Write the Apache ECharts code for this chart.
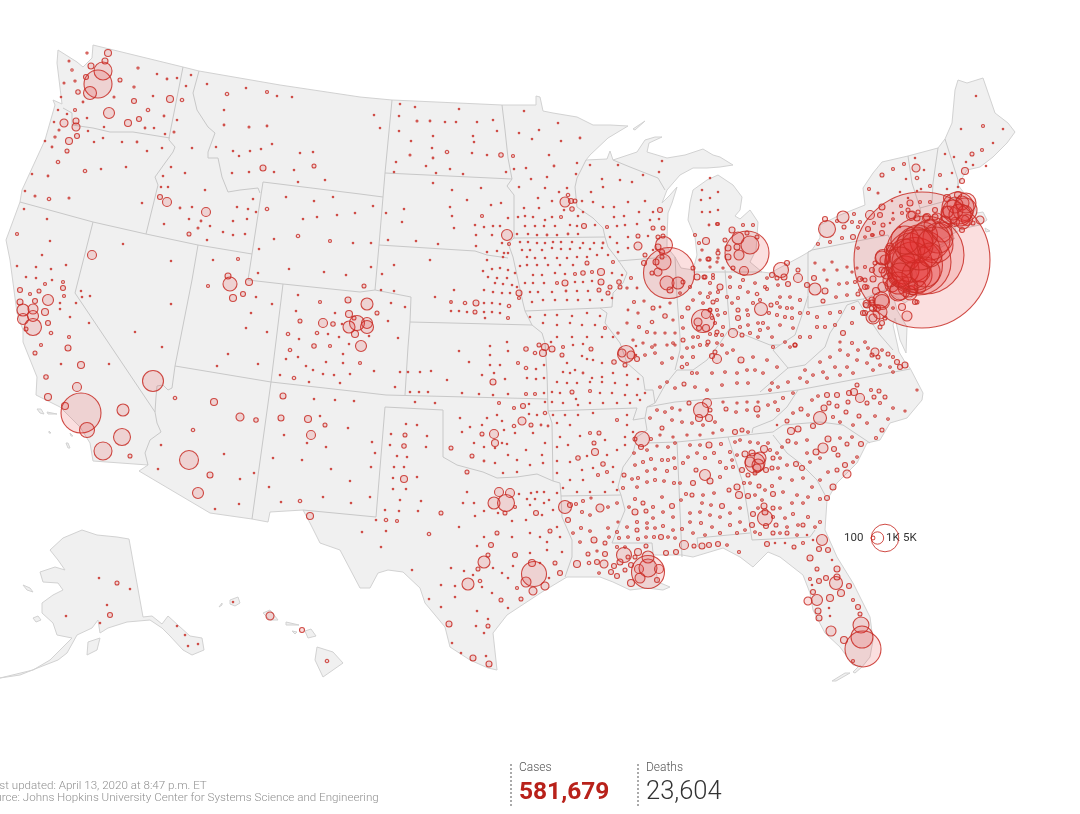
<!DOCTYPE html>
<html lang="en">
<head>
<meta charset="UTF-8">
<title>Coronavirus cases in the US</title>
<script src="https://cdn.jsdelivr.net/npm/echarts@6/dist/echarts.min.js"></script>
<style>
  html, body { margin: 0; padding: 0; background: #fff; overflow: hidden; }
  #main { width: 1080px; height: 814px; }
</style>
</head>
<body>
<div id="main"></div>
<script>
// map shapes in page pixels
const mainland = [[93,45],[183,67],[199,71],[280,85],[360,97],[392,100],[502,105],[536,105],[536,96],[540,97],[543,111],[553,113],[577,117],[593,125],[610,125],[628,126],[608,138],[590,155],[586,160],[607,159],[610,151],[613,160],[637,152],[645,140],[655,137],[662,137],[649,143],[647,152],[667,158],[685,155],[703,149],[713,155],[720,157],[733,165],[720,167],[707,168],[693,168],[680,175],[667,190],[662,203],[670,195],[677,187],[672,203],[668,213],[667,237],[667,247],[675,257],[681,268],[693,270],[697,255],[695,237],[688,220],[690,203],[693,190],[707,180],[718,175],[733,185],[742,197],[740,210],[735,216],[740,219],[750,210],[758,222],[757,237],[756,250],[750,262],[762,272],[770,273],[800,257],[812,250],[820,238],[820,225],[840,215],[865,205],[863,188],[873,173],[882,162],[908,156],[938,148],[945,139],[952,123],[955,90],[958,80],[967,83],[983,78],[995,113],[1008,123],[1015,132],[1007,143],[993,157],[980,167],[967,170],[958,185],[967,197],[973,203],[977,213],[983,212],[987,220],[980,225],[970,227],[960,230],[947,237],[925,247],[915,252],[912,258],[917,275],[917,293],[905,303],[893,295],[897,310],[907,327],[906,353],[900,340],[895,318],[893,325],[899,352],[905,362],[910,368],[923,393],[922,400],[907,418],[890,423],[880,440],[867,443],[857,463],[837,483],[827,500],[825,530],[837,557],[853,583],[870,617],[873,640],[870,657],[862,667],[853,665],[840,647],[825,633],[813,610],[810,593],[803,575],[780,557],[768,552],[753,567],[740,557],[723,548],[693,557],[682,555],[653,555],[658,582],[670,587],[663,590],[647,588],[630,590],[613,582],[600,577],[567,577],[542,592],[507,615],[493,633],[497,670],[488,668],[470,660],[450,647],[445,627],[425,603],[420,588],[403,572],[388,570],[378,573],[370,588],[360,588],[340,550],[320,543],[310,523],[303,510],[270,512],[268,522],[252,519],[210,513],[139,471],[148,465],[93,461],[90,443],[80,427],[60,407],[36,395],[37,377],[23,342],[23,330],[17,313],[10,260],[6,240],[20,202],[22,190],[45,140],[55,105],[53,100],[62,104],[57,63],[58,50],[77,62],[83,67],[92,58]];
const alaska = [[129,539],[143,617],[152,616],[162,624],[168,616],[190,636],[202,638],[204,650],[192,655],[183,650],[170,636],[162,628],[150,620],[127,622],[108,628],[100,633],[98,620],[92,628],[77,635],[67,653],[58,660],[40,667],[20,675],[0,678],[33,670],[50,660],[72,638],[57,635],[53,623],[42,613],[42,603],[53,595],[63,590],[58,583],[43,582],[40,572],[55,567],[65,570],[58,560],[50,550],[63,538],[82,530],[97,535],[117,537]];
const islands = [
  [[87,655],[88,642],[100,638],[97,650]], [[33,618],[38,616],[41,620],[36,622]], [[23,585],[30,588],[33,592],[27,590]],
  [[317,647],[333,652],[343,663],[323,677],[315,660]], [[305,631],[311,629],[316,636],[308,638]], [[263,613],[270,610],[278,620],[270,620]],
  [[230,600],[238,597],[240,603],[235,606],[230,604]], [[286,622],[299,625],[298,626],[286,625]], [[292,631],[297,632],[295,634]], [[219,607],[222,603],[222,605]],
  [[37,409],[41,409],[44,414],[40,413]], [[47,412],[57,414],[56,415],[48,414]], [[49,431],[51,433],[49,433]], [[70,433],[73,436],[71,436]], [[66,443],[68,443],[70,448],[68,448]],
  [[917,258],[935,247],[955,238],[945,245],[925,257]], [[985,228],[990,231],[986,232]], [[832,681],[845,673],[850,673],[836,681]], [[853,672],[860,665],[862,667],[855,673]],
  [[633,129],[645,121],[646,122],[635,130]]
];
const stateLines = [
  [[63,108],[72,113],[72,125],[93,128],[110,132],[133,132],[170,138]],
  [[183,67],[169,138],[169,140],[175,147],[173,152],[165,163],[155,177],[158,185],[146,234]],
  [[20,202],[93,222],[146,234],[198,245],[252,254]],
  [[199,71],[193,93],[197,110],[208,127],[215,133],[208,152],[208,158],[218,158],[222,177],[228,192],[240,190],[258,188],[260,193]],
  [[263,182],[360,194],[383,197]],
  [[263,182],[252,254],[248,280],[283,284],[360,292],[375,290],[411,297],[410,322],[408,347],[405,395]],
  [[283,284],[271,382],[252,519]],
  [[198,245],[192,280],[175,366],[271,382],[360,392],[386,395],[548,399]],
  [[175,366],[172,388],[168,390],[163,385],[157,386],[156,397],[155,412],[157,423],[161,432],[150,440],[145,453],[148,465]],
  [[93,222],[75,293],[155,412]],
  [[392,100],[385,173],[383,197],[379,245],[375,290]],
  [[385,173],[512,179]],
  [[502,105],[505,130],[508,158],[512,179],[507,186],[514,195],[514,238],[605,237]],
  [[379,245],[475,251],[487,255],[508,258]],
  [[514,238],[508,243],[513,257],[518,280],[523,303],[525,311],[532,325],[542,333],[545,343],[547,373],[548,411],[552,423],[553,481]],
  [[586,160],[577,178],[575,187],[577,207],[593,218],[603,228],[605,237],[608,247],[618,260],[627,273],[623,283],[613,293],[612,307],[600,308],[525,311]],
  [[618,261],[667,257]],
  [[613,160],[630,167],[658,178],[665,190]],
  [[410,322],[532,325]],
  [[600,308],[607,313],[605,323],[620,343],[627,363],[643,377],[645,390],[653,390],[655,403],[647,407],[645,418],[633,420],[637,408],[548,411]],
  [[655,403],[665,385],[677,370],[693,370],[707,360],[720,343],[730,328],[745,335],[770,345],[780,345],[795,335],[802,315],[808,296]],
  [[675,257],[677,297],[680,337],[680,350],[675,370]],
  [[725,270],[730,330]],
  [[693,272],[762,272]],
  [[812,250],[808,252],[808,308],[863,299]],
  [[812,250],[888,235],[895,250],[890,268],[885,290],[863,299],[872,312]],
  [[385,407],[376,517],[303,510]],
  [[385,407],[443,410],[443,457],[457,465],[483,472],[497,478],[517,477],[537,474],[553,481],[560,483],[561,496],[562,517],[572,540],[572,557],[565,577]],
  [[561,496],[621,495]],
  [[645,418],[647,430],[637,437],[633,453],[623,467],[618,487],[621,495],[625,510],[617,530],[612,543],[652,543],[653,553]],
  [[647,443],[677,442],[728,437],[773,432]],
  [[773,432],[783,425],[820,422],[843,425],[870,443]],
  [[752,433],[753,428],[773,420],[787,407],[798,390]],
  [[647,407],[675,402],[757,395],[798,390],[910,369]],
  [[760,392],[788,368],[805,365],[825,347],[830,333],[840,318],[847,305],[858,301],[870,320],[880,335],[893,350]],
  [[788,368],[773,350],[780,345]],
  [[677,442],[682,557]],
  [[728,437],[743,483],[748,513],[752,540],[810,537],[815,530]],
  [[697,538],[698,547]],
  [[697,538],[750,533]],
  [[773,435],[787,453],[800,463],[817,480],[825,495]],
  [[908,156],[912,183],[920,208],[922,227],[923,233]],
  [[938,148],[933,183],[932,203]],
  [[920,208],[957,198]],
  [[945,139],[958,180],[958,187]],
  [[922,227],[953,220],[956,232]]
];

// bubbles: [x, y, cases]
const pacificNw = [[87,53,30],[108,53,322],[105,61,237],[91,66,237],[103,71,2130],[98,84,5155],[90,93,1111],[86,77,164],[69,61,25],[72,70,40],[64,83,25],[75,81,30],[78,92,133],[120,80,105],[138,68,30],[157,74,8],[167,79,20],[177,78,6],[134,87,30],[134,101,164],[114,97,25],[83,102,20],[61,97,5],[153,96,8],[170,99,322],[182,100,80],[109,113,796],[75,110,59],[58,110,15],[148,110,80],[164,116,20],[139,119,164],[128,123,322],[87,118,10],[104,127,15],[145,128,20],[154,128,6],[165,134,12],[177,120,10],[174,132,25],[191,75,5],[186,86,10],[64,123,421],[76,121,237],[76,127,421],[67,114,15],[54,122,8],[59,130,25],[77,136,164],[69,141,322],[55,137,30],[45,141,8],[52,147,20],[67,151,105],[58,162,80],[32,174,5],[48,176,20],[85,171,80],[101,169,5],[126,167,4],[147,151,12],[137,142,20],[122,142,15],[94,142,15],[103,138,4],[88,131,15],[162,148,5],[25,191,8],[35,196,25],[49,199,80],[69,198,25],[142,203,12]];
const northRockies = [[192,148,10],[171,167,4],[185,173,8],[163,176,6],[161,187,15],[168,187,15],[160,197,164],[167,202,533],[180,208,20],[192,207,4],[205,190,5],[206,212,533],[189,219,12],[201,221,20],[198,228,25],[210,226,10],[164,224,12],[189,234,105],[207,240,12],[223,232,6],[233,235,8],[245,234,5],[233,221,6],[247,219,15],[256,212,12],[248,209,10],[237,207,8],[253,199,4],[267,209,80],[207,84,12],[227,94,80],[246,88,10],[267,92,59],[277,96,4],[292,97,4],[224,110,8],[224,125,20],[249,127,25],[267,126,20],[216,147,15],[233,151,8],[239,156,15],[250,151,6],[261,149,8],[272,144,6],[300,153,3],[313,152,3],[263,168,237],[249,172,12],[232,173,5],[274,172,12],[294,170,3],[314,166,105],[298,182,8],[325,180,3],[286,197,3],[314,201,3],[333,197,15],[303,219,5],[317,217,8],[337,215,12],[355,213,12],[298,236,80],[274,239,3],[330,241,59],[353,243,10],[259,249,10],[289,269,15],[258,273,6],[324,272,8],[346,275,6]];
const southwest = [[213,260,15],[238,259,59],[228,276,237],[230,284,1289],[249,282,322],[208,286,59],[233,298,322],[243,294,164],[256,297,5],[272,304,10],[251,313,4],[246,328,5],[267,332,3],[228,354,3],[217,366,8],[258,364,15],[92,255,533],[123,244,15],[171,261,15],[81,291,15],[90,296,10],[82,297,12],[76,303,5],[89,323,15],[135,332,15],[162,347,3],[171,304,3],[109,364,15],[153,381,2900],[17,234,59],[47,219,5],[24,209,4],[50,241,15],[42,255,4],[17,266,10],[36,267,6],[51,269,12],[66,265,5],[26,277,6],[36,278,6],[52,280,8],[45,284,59],[63,282,59],[63,288,164],[20,290,164],[30,294,59],[39,291,105],[48,300,796],[35,301,164],[64,296,59],[20,302,237],[23,310,947],[33,309,657],[33,316,796],[23,319,796],[33,327,1900],[45,312,322],[48,323,164],[26,329,105],[60,303,8],[60,309,8],[70,317,4],[51,333,80],[69,337,59],[41,345,59],[68,348,237],[35,353,105],[61,364,10],[81,365,322],[46,377,133],[48,397,322],[77,387,533],[81,413,10519],[65,406,322],[87,430,1479],[123,410,947],[122,437,1900],[103,451,2130],[130,456,105],[175,398,80],[214,402,322],[240,417,421],[256,420,133],[193,430,80],[161,445,6],[189,460,2374],[224,454,6],[210,475,237],[240,479,4],[254,473,4],[198,493,796],[158,469,12],[215,509,10],[239,504,15]];
const coloradoNm = [[298,295,5],[320,302,59],[348,300,237],[296,311,3],[335,313,6],[300,321,105],[323,323,533],[333,324,133],[349,314,322],[354,318,105],[349,327,947],[357,323,1479],[355,334,322],[317,333,80],[328,334,5],[342,324,12],[339,337,10],[288,334,80],[299,339,12],[290,350,80],[314,346,133],[330,346,59],[349,344,12],[361,346,796],[343,354,12],[286,359,12],[298,357,8],[326,362,6],[343,363,5],[360,363,59],[306,366,5],[313,370,5],[323,374,10],[334,375,12],[280,375,12],[294,378,80],[309,382,10],[340,383,10],[350,374,5],[367,304,947],[367,323,796],[367,327,1111],[369,336,8],[283,396,237],[314,399,8],[335,400,15],[354,401,5],[281,418,237],[308,419,322],[320,416,8],[325,425,105],[284,435,12],[311,435,533],[307,443,12],[348,428,3],[326,447,8],[273,458,3],[302,460,10],[331,469,3],[269,487,10],[350,481,15],[281,502,5],[300,501,80],[323,497,5],[351,503,8],[310,516,322]];
const northPlains = [[399,116,12],[374,115,6],[380,128,6],[415,107,4],[400,104,3],[459,109,3],[417,121,25],[430,121,20],[445,122,4],[456,122,6],[477,122,6],[493,120,8],[399,131,12],[497,131,15],[411,141,8],[433,136,4],[473,136,3],[474,142,5],[432,148,5],[410,155,25],[433,158,20],[447,152,80],[472,153,3],[487,155,6],[501,155,133],[396,162,8],[426,166,4],[450,169,5],[436,173,3],[394,172,6],[463,174,4],[506,172,10],[481,188,15],[452,190,5],[433,183,5],[467,200,4],[491,205,5],[501,203,15],[373,206,6],[386,213,12],[404,209,3],[450,207,3],[452,216,12],[482,216,59],[508,218,12],[402,222,15],[454,228,5],[475,225,5],[484,227,5],[493,226,4],[500,226,5],[507,235,796],[476,235,5],[492,235,6],[502,243,8],[509,244,59],[388,240,3],[416,241,3],[438,244,3],[476,246,4],[497,251,15],[487,252,8],[504,253,12],[508,253,6],[487,260,4],[503,257,10],[430,260,3],[371,243,3],[394,265,4],[371,267,6],[382,274,12],[483,271,4],[492,269,6],[500,268,5],[508,270,8],[488,277,5],[497,278,6],[507,278,6],[515,273,5],[495,283,6],[503,284,6],[512,285,8],[517,287,6],[519,293,237],[519,298,59],[454,290,8],[484,290,6],[493,292,6],[502,293,6],[510,293,8],[381,290,8],[394,291,6],[435,297,15],[451,302,50],[465,303,80],[476,303,237],[484,303,8],[492,303,6],[500,304,6],[509,306,80],[451,311,4],[459,311,4],[467,312,5],[475,312,105],[484,312,6],[492,312,6],[500,313,4],[508,318,59],[364,286,105],[391,303,10],[405,307,8],[377,313,105],[388,321,5],[485,318,5],[398,338,15]];
const upperMidwest = [[524,111,5],[539,130,8],[558,123,3],[580,138,20],[513,156,59],[519,133,3],[532,139,3],[561,141,5],[549,155,6],[577,163,15],[526,168,10],[514,169,12],[554,166,20],[590,165,12],[531,179,5],[547,177,4],[576,174,8],[519,187,6],[545,188,15],[559,192,12],[568,195,80],[567,188,12],[571,201,164],[565,202,657],[575,201,105],[572,209,133],[564,210,12],[538,198,5],[552,201,6],[524,208,6],[539,208,6],[518,217,5],[525,216,8],[533,217,6],[545,220,8],[552,217,8],[561,217,59],[578,216,6],[525,226,5],[535,226,6],[544,226,6],[555,226,15],[570,225,15],[577,226,15],[584,226,164],[547,235,20],[517,234,6],[528,234,6],[537,235,8],[557,235,8],[568,234,20],[578,234,15],[595,225,12],[582,201,8],[591,192,6],[603,187,5],[620,180,4],[632,182,4],[643,175,5],[659,172,6],[662,161,10],[618,165,4],[602,179,4],[583,212,8],[593,202,8],[603,207,15],[614,207,10],[628,202,8],[645,201,6],[660,210,164],[653,212,12],[639,212,8],[624,216,8],[614,217,8],[607,227,59],[617,226,5],[625,225,12],[637,224,8],[650,220,6],[659,219,12],[653,228,105],[663,228,105],[628,237,15],[638,236,105],[658,237,105],[648,236,15],[638,246,421],[628,248,10],[618,252,8],[645,255,105],[653,250,15],[663,236,105],[610,237,5],[617,243,8],[664,245,1900],[662,252,164],[658,247,237]];
const chicagoArea = [[669,273,17101],[663,262,1683],[656,262,237],[662,257,105],[658,272,421],[667,283,1289],[678,283,947],[670,290,237],[652,273,105],[644,263,164],[683,282,105],[693,268,105]];
const iowa = [[520,242,10],[528,242,8],[537,243,8],[545,243,6],[553,242,8],[561,242,8],[572,242,10],[583,243,10],[594,243,15],[603,243,20],[522,250,15],[530,250,8],[542,250,8],[552,248,15],[561,249,15],[570,249,15],[580,248,15],[590,249,15],[602,248,15],[608,255,15],[527,257,15],[535,258,10],[545,258,15],[557,258,15],[567,258,15],[577,257,15],[587,257,15],[597,255,15],[587,263,105],[613,262,59],[527,265,10],[537,265,10],[548,265,10],[560,265,10],[573,265,10],[520,266,15],[533,275,15],[542,275,15],[557,283,59],[555,273,15],[565,274,15],[575,274,59],[583,273,133],[592,272,59],[601,272,322],[612,273,10],[622,275,10],[525,283,15],[533,283,15],[544,283,10],[565,283,237],[575,282,15],[583,282,15],[592,281,15],[601,282,237],[610,287,105],[619,282,133],[620,287,105],[530,292,15],[538,292,10],[552,292,15],[566,291,20],[577,291,15],[588,291,15],[599,290,105],[608,293,105],[532,302,15],[543,300,10],[555,300,10],[567,300,10],[578,300,10],[590,300,10],[602,300,15],[612,298,15]];
const kansasOk = [[374,371,10],[400,372,4],[395,387,12],[408,372,5],[420,372,5],[431,371,15],[447,380,15],[459,351,5],[469,362,6],[490,346,6],[490,355,6],[507,342,6],[508,351,8],[526,349,133],[535,353,80],[539,345,105],[543,353,322],[545,347,322],[552,349,237],[551,342,5],[490,365,12],[500,365,8],[518,363,59],[526,368,80],[536,369,8],[544,365,6],[482,375,8],[494,373,8],[505,379,12],[493,382,237],[527,378,8],[536,379,5],[544,378,5],[410,392,6],[419,392,8],[428,392,10],[462,393,5],[479,394,5],[493,395,5],[508,394,6],[526,394,59],[535,394,59],[544,393,8],[415,402,8],[435,403,3],[499,403,59],[514,408,59],[523,406,164],[529,404,15],[545,402,15],[545,413,80],[537,415,15],[529,414,15],[522,421,421],[514,426,80],[531,425,105],[541,425,20],[502,421,15],[497,415,15],[487,418,10],[482,425,15],[470,427,10],[460,418,8],[494,434,533],[495,443,322],[482,434,105],[504,430,15],[515,433,15],[533,433,15],[548,426,20],[502,443,15],[507,444,15],[451,448,105],[462,432,15],[474,443,15],[484,447,15],[495,448,15],[472,456,105],[484,461,20],[508,455,15],[526,450,15],[542,455,15],[545,443,15],[495,463,15],[517,460,8],[467,472,105],[530,465,8],[543,463,10],[503,473,15],[517,472,15]];
const texas = [[406,424,15],[417,425,5],[405,435,105],[391,434,5],[427,436,10],[390,445,10],[404,446,133],[426,447,15],[375,453,12],[397,456,10],[407,457,6],[372,442,3],[371,467,5],[394,467,4],[404,467,10],[393,478,15],[404,479,322],[417,477,5],[370,497,5],[385,510,12],[400,500,12],[393,489,10],[406,489,8],[421,501,5],[399,511,5],[418,511,4],[386,520,80],[397,521,59],[376,520,4],[441,513,105],[362,532,5],[386,531,4],[429,534,80],[381,547,6],[412,570,10],[441,585,8],[429,599,10],[455,597,5],[441,607,6],[467,492,6],[474,503,8],[463,503,4],[499,492,533],[510,493,533],[494,503,947],[506,503,1900],[515,507,59],[519,494,15],[505,513,105],[531,493,8],[537,492,8],[544,492,8],[527,499,10],[535,499,10],[549,500,15],[557,493,15],[530,505,15],[544,503,15],[553,510,15],[536,513,164],[484,511,15],[475,516,15],[498,513,15],[459,527,15],[512,521,15],[526,520,15],[542,515,10],[557,527,15],[550,531,105],[484,537,15],[497,533,105],[512,537,10],[530,533,10],[540,537,15],[547,542,8],[491,545,164],[477,546,8],[560,537,10],[530,553,15],[547,550,8],[562,552,15],[515,555,164],[488,555,105],[484,562,947],[478,569,105],[493,568,15],[513,566,15],[532,563,322],[540,563,15],[555,563,105],[451,568,6],[464,571,15],[473,575,15],[502,573,15],[508,578,10],[468,584,947],[480,581,80],[455,586,8],[534,574,4109],[526,582,657],[545,586,421],[533,591,421],[560,573,164],[549,578,8],[517,588,59],[492,593,15],[482,587,15],[501,600,105],[521,599,105],[508,608,15],[477,611,5],[488,619,15],[488,626,105],[476,626,5],[484,633,6],[449,624,237],[452,643,5],[461,653,8],[473,658,237],[486,656,6],[489,664,237]];
const missouriArk = [[563,347,59],[562,355,105],[573,345,15],[583,344,15],[591,349,105],[582,356,15],[593,360,15],[567,363,15],[587,359,15],[602,363,15],[614,362,133],[626,354,1900],[622,353,421],[631,355,421],[637,359,164],[636,355,15],[636,346,15],[625,365,105],[583,373,20],[563,372,15],[570,373,15],[575,370,10],[592,378,15],[602,377,15],[613,373,15],[627,375,15],[557,382,15],[567,383,15],[577,383,15],[590,382,15],[602,382,15],[615,383,15],[627,385,15],[638,379,15],[572,392,105],[590,391,59],[560,393,15],[576,399,15],[552,392,15],[600,393,15],[612,393,15],[625,395,15],[637,395,15],[645,393,15],[552,402,15],[563,403,15],[578,405,15],[590,403,15],[603,403,15],[617,403,15],[630,403,15],[640,400,15],[530,317,15],[545,315,15],[557,315,10],[572,316,15],[587,313,15],[600,316,15],[543,323,15],[557,325,15],[570,323,15],[582,325,15],[595,325,15],[605,328,59],[557,337,15],[572,337,15],[587,337,15],[602,337,15],[613,337,15],[553,415,15],[565,415,10],[578,415,15],[593,413,15],[617,420,59],[627,415,15],[557,423,15],[570,425,10],[590,433,59],[599,433,105],[580,436,15],[560,437,15],[605,440,15],[594,443,105],[627,425,15],[625,437,15],[633,432,15],[557,447,15],[568,445,15],[617,450,15],[595,452,322],[578,458,133],[587,456,15],[607,455,15],[625,445,15],[557,461,15],[570,462,15],[603,464,133],[593,468,15],[582,470,15],[613,467,15],[607,472,59],[557,473,15],[570,480,15],[583,480,15],[598,475,59],[613,482,15],[563,488,15],[577,492,15],[590,492,15],[605,492,15],[617,490,15]];
const louisianaMs = [[565,507,1111],[570,505,164],[576,504,59],[583,501,59],[591,498,30],[600,508,421],[582,512,59],[590,515,45],[608,507,45],[617,503,45],[568,520,164],[581,528,59],[590,531,45],[608,528,45],[618,522,30],[594,540,237],[580,542,45],[573,533,45],[605,543,105],[609,537,45],[588,554,105],[597,551,30],[605,554,164],[617,547,59],[577,564,322],[597,562,164],[604,564,421],[589,563,80],[614,566,164],[620,562,237],[624,555,1479],[638,552,322],[646,546,105],[625,570,105],[611,572,164],[599,573,45],[617,576,164],[631,583,322],[631,565,164],[639,569,533],[648,572,7160],[648,557,947],[648,568,2130],[659,569,533],[640,578,657],[657,580,164],[635,557,105],[628,557,105],[666,553,164],[676,552,164],[634,453,45],[647,450,45],[657,446,30],[668,447,45],[675,443,45],[635,465,45],[643,462,59],[651,459,59],[662,460,59],[668,460,59],[674,458,45],[624,475,105],[632,479,45],[638,478,59],[647,471,45],[655,469,45],[667,471,59],[675,468,59],[623,488,59],[637,487,45],[647,482,45],[655,480,59],[664,481,45],[674,483,59],[635,499,59],[643,503,105],[653,507,59],[662,497,45],[672,506,164],[629,507,45],[635,512,237],[646,511,105],[663,512,45],[673,517,45],[637,522,59],[627,527,45],[647,523,45],[653,518,45],[663,526,59],[655,528,45],[617,532,59],[637,530,105],[647,528,45],[673,530,45],[619,538,59],[628,537,45],[638,539,59],[646,537,45],[654,537,59],[661,537,164],[668,537,45],[675,538,45],[625,547,45],[642,439,1479],[635,439,105],[641,447,164],[651,439,59]];
const tennesseeKy = [[662,428,105],[650,418,45],[657,410,45],[689,403,105],[701,410,1479],[707,403,533],[699,418,322],[709,418,322],[710,410,105],[726,409,105],[680,410,30],[672,408,45],[665,412,45],[672,420,45],[682,422,45],[692,423,45],[703,425,45],[715,422,45],[722,430,45],[735,432,164],[742,430,105],[748,432,45],[736,412,45],[747,410,45],[757,409,237],[758,416,45],[768,405,45],[775,402,45],[783,398,59],[793,393,45],[778,410,59],[737,403,30],[723,402,30],[758,402,30],[747,402,30],[673,437,30],[687,435,30],[700,435,30],[713,433,30],[660,435,30],[717,359,533],[715,352,105],[712,356,164],[708,342,105],[700,345,59],[741,360,237],[753,357,45],[733,350,45],[727,353,45],[722,345,45],[737,373,45],[725,372,45],[712,373,45],[697,373,45],[692,373,59],[682,367,80],[687,364,59],[684,384,105],[667,382,45],[675,388,45],[695,387,45],[707,390,45],[722,385,45],[737,383,45],[748,383,45],[763,373,45],[772,383,45],[755,370,45],[747,370,45],[767,360,45],[777,367,45],[660,387,45],[645,355,45],[655,353,45],[673,343,45],[652,347,45],[693,357,59],[687,348,45],[682,357,45],[672,358,45],[662,363,45]];
const illinoisIn = [[634,302,59],[653,308,105],[644,301,30],[627,288,30],[631,278,59],[637,288,20],[628,310,20],[638,313,30],[652,322,80],[665,316,133],[639,327,59],[647,332,59],[627,323,30],[618,333,30],[655,333,30],[665,333,30],[673,320,30],[660,307,20],[670,303,30],[675,333,30],[633,340,30],[643,343,30],[655,345,30],[667,345,30],[675,345,30],[703,321,3478],[698,322,421],[706,314,533],[706,328,322],[699,328,164],[712,318,59],[710,310,59],[697,277,237],[704,277,105],[713,275,59],[688,308,105],[680,293,45],[690,287,59],[700,293,45],[710,293,45],[718,292,59],[693,300,45],[703,303,45],[713,302,105],[682,317,59],[683,328,45],[683,340,105],[693,337,45],[698,337,59],[710,334,59],[717,332,105],[718,315,45],[693,347,45],[707,345,45],[717,343,45]];
const michiganOh = [[706,241,322],[695,235,59],[699,243,59],[702,250,30],[709,259,105],[700,260,30],[718,258,30],[718,250,30],[710,267,30],[709,225,20],[717,224,59],[701,200,15],[710,198,15],[718,192,15],[710,178,10],[702,212,15],[710,212,15],[718,210,15],[702,190,10],[732,230,237],[743,225,59],[753,225,59],[718,224,59],[725,240,105],[747,253,12729],[750,245,2130],[738,238,947],[739,255,657],[744,271,533],[757,237,105],[747,233,105],[728,248,237],[728,257,237],[737,247,237],[718,253,105],[708,259,105],[717,262,30],[733,268,105],[723,268,30],[761,309,1111],[771,305,105],[781,270,1479],[787,263,164],[798,270,105],[798,278,533],[784,277,237],[777,278,105],[772,275,164],[788,284,164],[767,289,59],[757,294,80],[778,285,45],[738,298,59],[748,292,45],[730,277,45],[743,280,59],[755,283,45],[767,278,45],[738,310,105],[738,318,164],[732,303,45],[747,310,45],[760,300,59],[769,313,59],[780,297,45],[790,297,45],[780,307,45],[792,318,59],[800,300,59],[792,308,45],[740,327,59],[733,333,533],[722,335,59],[716,335,59],[742,335,105],[748,325,45],[758,323,45],[768,328,45],[780,325,45],[793,328,45],[758,337,45],[772,337,45],[785,342,45],[790,347,45],[710,283,59],[720,287,237],[705,277,105],[713,278,59],[730,287,59],[740,287,59],[765,287,59],[708,297,59],[717,300,59],[727,297,59],[753,303,59],[777,303,59],[787,308,59],[710,310,105],[717,310,59],[725,313,59],[748,315,59],[763,323,59],[777,315,59],[785,317,59],[800,313,59],[808,313,59],[817,317,59],[830,313,59],[840,312,59],[843,333,164],[852,323,59],[817,327,59],[825,327,59],[835,325,59],[810,337,59],[800,337,59],[723,327,59],[715,323,59],[750,333,59],[760,330,59],[773,347,59],[795,345,105]];
const pennNy = [[807,285,164],[815,289,947],[825,291,237],[814,278,164],[823,301,105],[824,270,30],[832,262,30],[815,263,30],[837,270,30],[847,267,30],[839,284,45],[847,283,45],[855,282,59],[852,272,30],[860,279,164],[873,279,237],[867,287,105],[876,291,322],[883,287,657],[865,280,105],[860,290,45],[857,268,30],[836,297,45],[847,295,45],[827,280,30],[827,229,1900],[843,217,947],[825,219,164],[854,214,59],[837,221,59],[844,227,105],[852,222,59],[858,227,59],[853,237,164],[842,238,59],[830,242,59],[818,244,59],[870,215,533],[880,215,164],[882,207,237],[868,229,164],[883,225,105],[872,235,59],[882,233,164],[910,203,237],[901,206,59],[911,216,533],[918,212,105],[869,189,59],[882,175,105],[893,169,59],[904,164,59],[878,193,26],[917,191,15],[900,192,15],[892,201,15],[908,198,15],[920,202,59],[902,213,59],[893,213,15],[908,210,105],[890,223,15],[900,227,15],[926,218,322],[935,217,237],[930,202,59],[912,215,421],[917,218,237],[927,217,322],[860,222,59],[874,223,59],[893,219,45],[865,237,45],[873,235,45],[858,248,45],[882,258,1289],[889,250,533],[875,263,105],[872,270,164],[865,267,59],[882,270,237],[887,273,947],[892,285,1289],[898,292,2130],[910,293,1289],[862,279,45],[865,287,164],[858,294,105],[872,300,237],[881,300,1683],[867,304,421],[873,308,322],[893,308,45],[865,313,164],[882,323,164],[920,287,947],[915,302,164]];
const newEngland = [[916,168,421],[917,178,80],[915,158,15],[924,170,15],[906,179,15],[921,189,15],[930,186,59],[940,175,59],[952,173,15],[945,154,15],[954,157,15],[972,154,105],[982,150,59],[965,171,322],[962,181,164],[973,165,15],[966,162,15],[986,166,15],[947,189,15],[958,187,15],[993,143,15],[983,126,59],[961,129,15],[976,96,15],[1003,129,8],[958,208,6733],[962,203,1289],[953,210,2630],[947,212,947],[965,213,1479],[958,195,322],[947,198,322],[967,220,796],[955,222,533],[980,220,421],[950,225,105],[962,230,164],[973,223,105],[935,210,164],[937,218,657],[965,210,3787],[960,215,3182],[950,215,2130],[955,205,1683],[966,203,2630],[963,222,1289]];
const nycArea = [[922,260,121604],[925,255,40000],[918,262,28639],[915,265,19889],[930,240,10519],[938,238,5917],[912,262,10519],[905,270,5155],[900,262,5917],[898,283,3182],[908,287,2630],[917,275,5917],[920,272,2630],[910,248,5917],[925,235,4109],[942,232,2630],[915,245,8521],[905,255,6733],[930,225,947],[945,222,947],[900,290,2630],[890,280,1289],[880,270,1289],[913,290,657],[885,260,657],[883,257,1479],[890,247,421],[907,316,657],[902,307,322],[905,240,5155],[918,240,5917],[935,245,8521],[910,272,8521],[925,272,5917],[900,275,3787],[930,255,3787],[920,250,10519]];
const baltimoreDc = [[882,302,1479],[873,317,1289],[880,312,1289],[872,303,237],[866,305,164],[873,318,421],[877,308,322],[863,313,164],[885,318,105],[917,302,105],[853,308,59],[880,327,105],[875,352,421],[872,355,105],[878,357,105],[888,354,105],[893,357,59],[897,362,164],[900,367,164],[905,365,237],[840,342,30],[852,343,59],[865,342,45],[868,348,45],[882,350,45],[858,350,45],[848,355,45],[840,350,45],[830,357,45],[820,362,45],[805,370,45],[795,345,105],[857,360,45],[867,363,45],[880,365,45],[890,367,45],[847,367,45],[835,367,45],[823,372,45],[813,375,45],[800,378,45],[788,382,45],[778,387,45],[770,390,45],[853,373,45],[873,370,45],[893,372,45],[840,375,45],[827,378,45],[807,382,45]];
const carolinas = [[860,398,533],[854,392,322],[849,393,164],[857,385,105],[837,395,164],[827,395,164],[818,396,45],[812,400,45],[801,409,105],[808,415,45],[820,418,1111],[824,408,237],[829,403,105],[837,406,105],[848,402,105],[867,403,105],[874,397,105],[879,391,105],[871,390,59],[885,397,105],[880,403,59],[893,408,45],[917,390,30],[905,411,30],[846,412,105],[859,416,105],[833,417,59],[888,419,45],[875,416,45],[867,423,45],[882,430,105],[876,438,59],[853,425,45],[840,422,45],[813,426,164],[798,429,237],[791,431,322],[787,421,105],[793,413,45],[777,425,15],[823,448,657],[828,439,237],[816,452,237],[834,449,164],[838,455,105],[847,444,105],[861,444,164],[840,438,45],[852,437,45],[807,440,45],[796,443,45],[788,441,105],[807,453,45],[796,464,164],[802,468,164],[810,462,45],[820,458,45],[828,472,45],[837,470,105],[845,465,164],[847,474,421],[853,462,45],[857,457,45],[833,487,237],[827,498,164],[820,480,45]];
const georgiaAl = [[755,463,2630],[750,462,657],[760,458,947],[758,465,947],[757,468,421],[764,449,322],[752,453,237],[745,454,237],[766,470,164],[742,470,164],[748,475,105],[755,473,105],[773,458,105],[777,453,45],[772,468,105],[740,440,45],[735,442,45],[750,442,45],[758,443,45],[768,443,45],[770,450,59],[782,447,45],[787,465,45],[780,458,45],[778,468,45],[737,455,45],[744,483,59],[759,486,105],[750,483,45],[772,486,59],[780,478,45],[792,480,45],[803,478,45],[812,487,45],[755,495,45],[748,496,164],[773,494,164],[765,490,45],[783,492,45],[797,495,45],[808,497,45],[820,499,59],[762,500,45],[764,506,237],[773,508,105],[758,508,45],[753,514,164],[765,518,1479],[765,512,237],[773,517,59],[780,508,45],[792,503,45],[803,503,45],[793,514,59],[785,518,45],[803,525,105],[808,517,59],[820,522,59],[776,525,105],[766,526,164],[752,525,164],[787,527,45],[798,525,45],[815,527,45],[760,534,59],[773,533,105],[787,533,105],[780,533,45],[797,535,45],[755,532,45],[705,475,796],[710,481,237],[693,483,164],[696,470,105],[709,445,237],[683,463,59],[714,453,59],[721,444,59],[700,445,45],[690,445,45],[697,453,45],[688,457,45],[705,458,59],[720,462,59],[726,468,59],[733,467,59],[732,460,45],[730,452,59],[720,477,59],[737,487,237],[739,495,322],[729,490,105],[686,494,59],[680,483,45],[692,495,105],[703,495,45],[714,493,45],[722,506,164],[711,505,45],[702,503,45],[681,500,45],[690,513,45],[730,513,45],[740,508,45],[720,517,45],[710,515,45],[700,512,45],[690,522,45],[701,523,59],[712,527,45],[730,525,59],[740,522,45],[682,529,59],[693,533,45],[705,535,45],[720,533,59],[737,533,59],[745,530,45],[684,545,533],[694,546,105],[702,546,237],[709,545,164],[718,544,164],[727,545,45],[739,552,59]];
const florida = [[822,540,796],[828,550,164],[819,549,164],[810,558,237],[813,540,15],[832,560,15],[817,569,105],[837,569,237],[810,579,59],[819,581,164],[826,578,164],[836,583,1111],[837,577,237],[849,586,164],[841,593,322],[812,585,15],[813,592,164],[817,600,796],[808,601,421],[830,598,322],[818,611,237],[819,618,237],[829,608,15],[853,600,59],[858,607,164],[860,614,105],[831,631,657],[830,616,15],[844,640,322],[861,625,1683],[862,637,3182],[863,649,8521],[853,661,59],[767,544,164],[794,547,105],[803,543,59],[785,543,15],[775,543,15],[807,535,15]];
const alaskaHawaii = [[117,583,105],[99,578,3],[130,589,2],[107,605,15],[110,615,164],[100,623,12],[66,616,3],[177,626,10],[185,635,4],[188,646,3],[198,644,10],[233,602,12],[270,616,421],[302,630,164],[327,661,80]];

const legendCases = [100, 1000, 5000];
const legendX = [873, 877.5, 885];
const legendLabels = ['100', '1K', '5K'];
const legendLabelX = [844, 886, 903];
const totalCases = '581,679';
const totalDeaths = '23,604';

const allBubbles = [].concat(pacificNw, northRockies, southwest, coloradoNm, northPlains, upperMidwest, chicagoArea, iowa, kansasOk, texas, missouriArk, louisianaMs, tennesseeKy, illinoisIn, michiganOh, pennNy, newEngland, nycArea, baltimoreDc, carolinas, georgiaAl, florida, alaskaHawaii);

const sizeOf = v => Math.max(1.5, 0.39 * Math.sqrt(v));

function polyFeature(name, rings) {
  return { type: 'Feature', properties: { name: name }, geometry: { type: 'MultiPolygon', coordinates: rings.map(r => [r.concat([r[0]])]) } };
}
echarts.registerMap('usa', { type: 'FeatureCollection', features: [
  polyFeature('Mainland', [mainland]),
  polyFeature('Alaska', [alaska]),
  polyFeature('Islands', islands)
] });

const myChart = echarts.init(document.getElementById('main'), null, { renderer: 'canvas' });

function label(x, y, text, size, color, weight) {
  return { type: 'text', x: x, y: y, silent: true, style: { text: text, fontSize: size, fill: color, fontWeight: weight || 300, fontFamily: 'Roboto', verticalAlign: 'middle' } };
}
function dots(x) {
  return { type: 'line', silent: true, shape: { x1: x, y1: 764, x2: x, y2: 806 }, style: { stroke: '#aaa', lineWidth: 2, lineDash: [2, 2] } };
}

myChart.setOption({
  animation: false,
  backgroundColor: '#fff',
  tooltip: { show: false },
  geo: {
    map: 'usa', roam: false, silent: true,
    left: 0, top: 0, width: 1080, height: 814,
    boundingCoords: [[0, 0], [1080, 814]],
    projection: { project: p => [p[0], p[1]], unproject: p => [p[0], p[1]] },
    label: { show: false },
    itemStyle: { areaColor: '#f0f0f0', borderColor: '#d2d2d2', borderWidth: 1 },
    emphasis: { disabled: true }, select: { disabled: true }
  },
  series: [
    {
      type: 'lines', coordinateSystem: 'geo', polyline: true, silent: true, z: 3,
      lineStyle: { color: '#c8c8c8', width: 1, opacity: 1 },
      data: stateLines.map(c => ({ coords: c }))
    },
    {
      name: 'Cases', type: 'scatter', coordinateSystem: 'geo', silent: true, z: 5, progressive: 0,
      symbolSize: v => sizeOf(v[2]),
      itemStyle: { color: 'rgba(230,40,40,0.15)', borderColor: 'rgba(200,45,38,0.85)', borderWidth: 1.1, opacity: 1 },
      data: allBubbles
    },
    {
      name: 'Legend', type: 'scatter', coordinateSystem: 'geo', silent: true, z: 6,
      symbolSize: v => sizeOf(v[2]),
      itemStyle: { color: 'rgba(0,0,0,0)', borderColor: 'rgba(200,45,38,0.85)', borderWidth: 1, opacity: 1 },
      data: legendCases.map((c, i) => [legendX[i], 538, c])
    }
  ],
  graphic: { elements: [
    label(legendLabelX[0], 538, legendLabels[0], 11.5, '#333', 400),
    label(legendLabelX[1], 538, legendLabels[1], 11.5, '#333', 400),
    label(legendLabelX[2], 538, legendLabels[2], 11.5, '#333', 400),
    label(-13, 786, 'Last updated: April 13, 2020 at 8:47 p.m. ET', 11.6, '#909090'),
    label(-18, 798, 'Source: Johns Hopkins University Center for Systems Science and Engineering', 11.6, '#909090'),
    dots(511), dots(638),
    label(519, 768, 'Cases', 12, '#555'),
    label(646, 768, 'Deaths', 12, '#555'),
    label(519, 793, totalCases, 24.5, '#b8211a', 'bold'),
    label(646, 793, totalDeaths, 25.5, '#333')
  ] }
});
</script>
</body>
</html>
